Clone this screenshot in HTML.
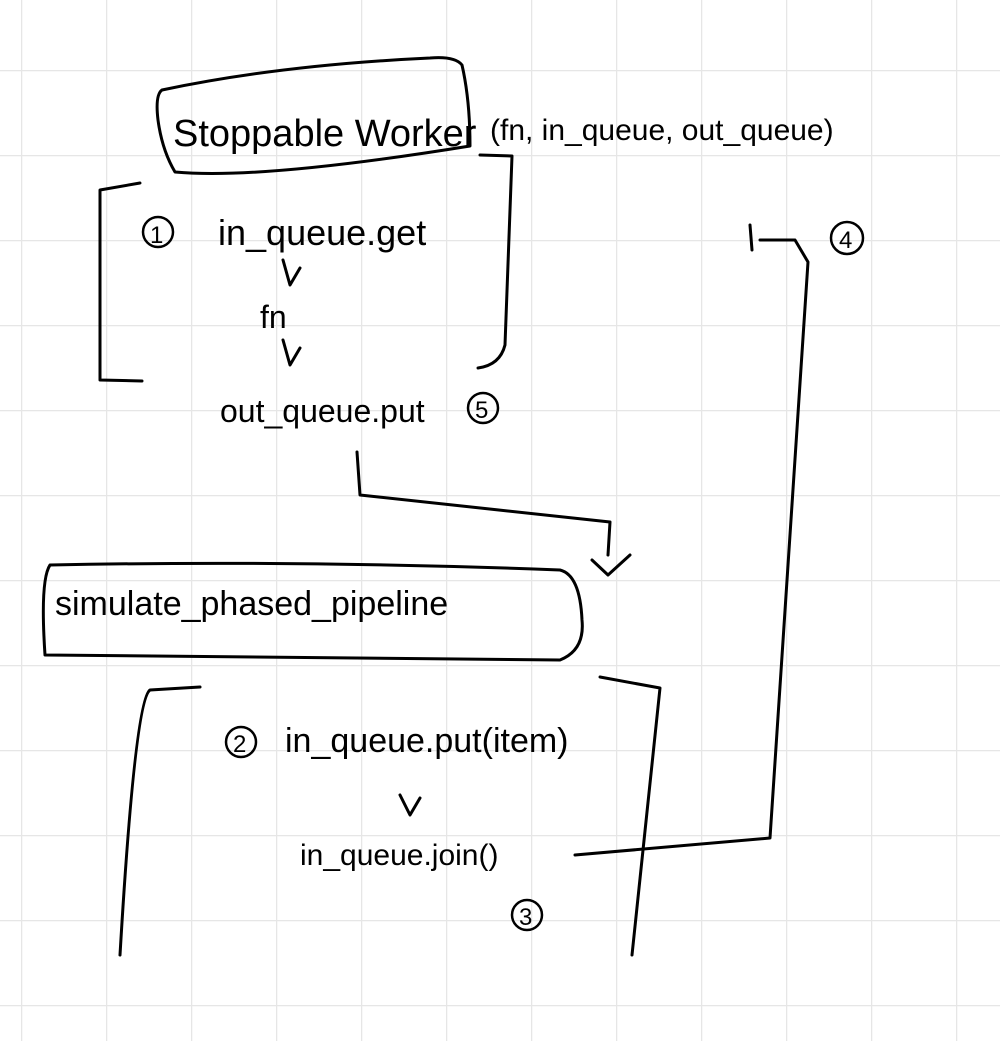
<!DOCTYPE html>
<html><head><style>
html,body{margin:0;padding:0;background:#fff;}
svg{display:block;}
text{font-family:"Liberation Sans",sans-serif;fill:#000;}
</style></head><body>
<svg width="1000" height="1041" viewBox="0 0 1000 1041" xmlns="http://www.w3.org/2000/svg">
<defs>
<pattern id="g" x="21" y="70" width="85" height="85" patternUnits="userSpaceOnUse">
<path d="M0 0V85M0 0H85" stroke="#e6e6e6" stroke-width="2.5" fill="none"/>
</pattern>
</defs>
<rect width="1000" height="1041" fill="url(#g)"/>
<g fill="none" stroke="#000" stroke-width="3" stroke-linecap="round" stroke-linejoin="round">
<!-- Stoppable worker box -->
<path d="M162 90 Q155 95 158 120 Q162 150 175 172 Q260 180 470 146 Q470 100 462 65 Q455 56 430 58 Q280 65 162 90Z"/>
<!-- bracket 1 -->
<path d="M140 183 L100 190 L100 380 L142 381"/>
<path d="M480 155 L512 156 L505 345 Q500 365 478 368"/>
<!-- small arrows -->
<path d="M283 260 L290 285 L300 268"/>
<path d="M283 340 L290 365 L300 348"/>
<!-- arrow 5 to pipeline -->
<path d="M357 452 L360 495 L610 522 L608 555"/>
<path d="M592 560 L608 575 L630 555"/>
<!-- pipeline box -->
<path d="M50 565 Q40 580 45 655 L560 660 Q585 650 582 620 Q580 575 560 570 Q300 560 50 565Z"/>
<!-- bracket 2 -->
<path d="M200 687 L150 690 Q135 700 120 955"/>
<path d="M600 677 L660 688 L632 955"/>
<path d="M400 795 L410 815 L420 798"/>
<!-- join to 4 -->
<path d="M575 855 L770 838 L808 262 L795 240 L760 240"/>
<path d="M750 225 L752 250"/>
</g>
<g fill="none" stroke="#000" stroke-width="2.5">
<circle cx="158" cy="232" r="15"/>
<circle cx="483" cy="408" r="15"/>
<circle cx="241" cy="742" r="15"/>
<circle cx="527" cy="915" r="15"/>
<circle cx="847" cy="238" r="16"/>
</g>
<g font-size="34">
<text x="173" y="146" font-size="38">Stoppable Worker</text>
<text x="490" y="140" font-size="30">(fn, in_queue, out_queue)</text>
<text x="150" y="243" font-size="24">1</text>
<text x="218" y="245" font-size="36">in_queue.get</text>
<text x="260" y="328" font-size="32">fn</text>
<text x="220" y="422" font-size="32">out_queue.put</text>
<text x="475" y="418" font-size="24">5</text>
<text x="55" y="615" font-size="34">simulate_phased_pipeline</text>
<text x="233" y="752" font-size="24">2</text>
<text x="285" y="752" font-size="34">in_queue.put(item)</text>
<text x="300" y="865" font-size="30">in_queue.join()</text>
<text x="519" y="925" font-size="24">3</text>
<text x="839" y="248" font-size="24">4</text>
</g>
</svg>
</body></html>
